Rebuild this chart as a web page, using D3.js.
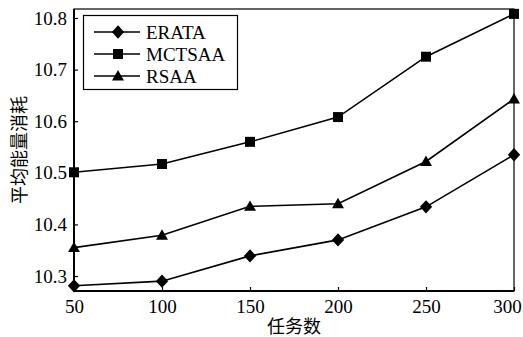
<!DOCTYPE html>
<html><head><meta charset="utf-8">
<script src="https://cdn.jsdelivr.net/npm/d3@7"></script>
<style>body{margin:0;background:#fff}svg{display:block}</style>
</head><body>
<svg id="c" width="523" height="337"></svg>
<script>
const tasks = [50, 100, 150, 200, 250, 300];
const erata = [10.281, 10.290, 10.339, 10.370, 10.434, 10.535];
const mctsaa = [10.501, 10.517, 10.560, 10.608, 10.725, 10.808];
const rsaa = [10.355, 10.379, 10.435, 10.440, 10.522, 10.643];
const yTicks = [10.3, 10.4, 10.5, 10.6, 10.7, 10.8];
const seriesNames = ["ERATA", "MCTSAA", "RSAA"];
const seriesSymbols = ["diamond", "square", "triangle"];

const svg = d3.select("#c");
const L = 74, R = 514, T = 9, B = 291;
const x = d3.scaleLinear().domain([50, 300]).range([L, R]);
const y = d3.scaleLinear().domain([10.3, 10.8]).range([276, 18]);
const serif = "'Liberation Serif','Times New Roman',serif";
const cjk = "'Noto Sans CJK SC',sans-serif";

// frame
svg.append("rect").attr("x", L).attr("y", T).attr("width", R - L).attr("height", B - T)
  .attr("fill", "none").attr("stroke", "#000").attr("stroke-width", 1.2);
svg.append("line").attr("x1", L).attr("x2", L).attr("y1", T).attr("y2", B).attr("stroke", "#000").attr("stroke-width", 2);
svg.append("line").attr("x1", L).attr("x2", R).attr("y1", B).attr("y2", B).attr("stroke", "#000").attr("stroke-width", 2);

const xAxis = d3.axisBottom(x).tickValues(tasks).tickSizeInner(-4).tickSizeOuter(0).tickPadding(9);
const gx = svg.append("g").attr("transform", `translate(0,${B})`).call(xAxis);
gx.select(".domain").remove();
gx.selectAll("text").attr("font-family", serif).attr("font-size", 19).attr("fill", "#000")
  .attr("dx", d => d === 300 ? -7 : 0);
gx.selectAll("line").attr("stroke-width", 1.2);

const yAxis = d3.axisLeft(y).tickValues(yTicks).tickFormat(d3.format(".1f")).tickSizeInner(-4).tickSizeOuter(0).tickPadding(7);
const gy = svg.append("g").attr("transform", `translate(${L},0)`).call(yAxis);
gy.select(".domain").remove();
gy.selectAll("text").attr("font-family", serif).attr("font-size", 19).attr("fill", "#000");
gy.selectAll("line").attr("stroke-width", 1.2);

// axis titles
svg.append("text").attr("x", 294).attr("y", 333).attr("text-anchor", "middle").attr("fill", "#000")
  .attr("font-family", cjk).attr("font-size", 18).text("任务数");
svg.append("text").attr("transform", "translate(26,150) rotate(-90)").attr("text-anchor", "middle").attr("fill", "#000")
  .attr("font-family", cjk).attr("font-size", 18).text("平均能量消耗");

const symbolTypes = {diamond: d3.symbolSquare, square: d3.symbolSquare, triangle: d3.symbolTriangle};
const symbolSizes = {diamond: 76, square: 100, triangle: 62};
const extraTf = {diamond: " scale(1,1.08) rotate(45)", square: "", triangle: " translate(0,1)"};
const data = [erata, mctsaa, rsaa];
const line = d3.line().x((d, i) => x(tasks[i])).y(d => y(d));

data.forEach((vals, k) => {
  const s = seriesSymbols[k];
  svg.append("path").attr("d", line(vals)).attr("fill", "none").attr("stroke", "#000").attr("stroke-width", 1.6);
  const sym = d3.symbol().type(symbolTypes[s]).size(symbolSizes[s]);
  svg.selectAll(null).data(vals).enter().append("path")
    .attr("d", sym)
    .attr("transform", (d, i) => `translate(${x(tasks[i])},${y(d)})` + extraTf[s])
    .attr("fill", "#000");
});

// legend
const lg = svg.append("g");
lg.append("rect").attr("x", 83.5).attr("y", 15.5).attr("width", 154).attr("height", 74)
  .attr("fill", "#fff").attr("stroke", "#000").attr("stroke-width", 1.2);
const ly = [32, 54, 76];
seriesNames.forEach((n, k) => {
  const s = seriesSymbols[k];
  lg.append("line").attr("x1", 94).attr("x2", 140).attr("y1", ly[k]).attr("y2", ly[k]).attr("stroke", "#000").attr("stroke-width", 1.6);
  lg.append("path").attr("d", d3.symbol().type(symbolTypes[s]).size(symbolSizes[s])())
    .attr("transform", `translate(118,${ly[k]})` + extraTf[s]).attr("fill", "#000");
  lg.append("text").attr("x", 146).attr("y", ly[k] + 7).attr("font-family", serif).attr("font-size", 19).attr("fill", "#000").text(n);
});
</script>
</body></html>
